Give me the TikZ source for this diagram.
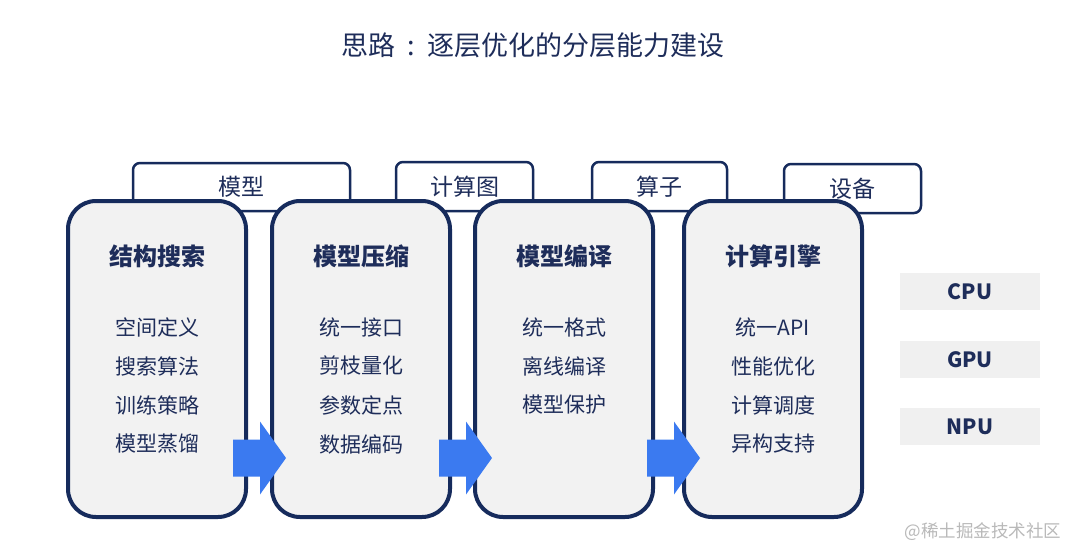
\documentclass[tikz,border=0pt]{standalone}
\usepackage{fontspec}
\setmainfont{Noto Sans CJK SC}
\definecolor{navy}{RGB}{22,43,92}
\definecolor{txt}{RGB}{30,45,90}
\definecolor{boxfill}{RGB}{242,242,242}
\definecolor{devfill}{RGB}{240,240,240}
\definecolor{arrowblue}{RGB}{59,122,240}
\definecolor{wm}{RGB}{185,185,185}
\begin{document}
\begin{tikzpicture}[x=1pt,y=-1pt,
  tabbox/.style={draw=navy, line width=2.5pt, fill=white, rounded corners=7pt, inner sep=0pt,
    font=\fontsize{23}{26}\selectfont, text=txt},
  mainbox/.style={draw=navy, line width=4pt, fill=boxfill, rounded corners=28pt,
    minimum width=178pt, minimum height=316pt, inner sep=0pt},
  boxtitle/.style={font=\fontsize{24}{28}\selectfont\bfseries, text=txt, inner sep=0pt},
  item/.style={font=\fontsize{21}{25}\selectfont, text=txt, inner sep=0pt},
  devbox/.style={fill=devfill, minimum width=140pt, minimum height=37pt, inner sep=0pt,
    font=\fontsize{21}{25}\selectfont\bfseries, text=txt},
  blockarrow/.pic={\fill[arrowblue] (0,-18.5) -- (27,-18.5) -- (27,-36.5) -- (53,0) -- (27,36.5) -- (27,18.5) -- (0,18.5) -- cycle;}
]
\useasboundingbox (0,0) rectangle (1080,560);
\fill[white] (0,0) rectangle (1080,560);

% title
\node[font=\fontsize{27}{31}\selectfont, text=txt, inner sep=0pt] (title) at (533,45) {思路\makebox[1.2em]{:}逐层优化的分层能力建设};

% tabs
\node[tabbox, minimum width=217pt, minimum height=48pt] (t1) at (241.5,187) {模型};
\node[tabbox, minimum width=137pt, minimum height=49pt] (t2) at (464.5,186.5) {计算图};
\node[tabbox, minimum width=135pt, minimum height=49pt] (t3) at (659.5,186.5) {算子};
\node[tabbox, minimum width=137pt, minimum height=49pt] (t4) at (852.5,188.5) {设备};

% main boxes
\node[mainbox] (b1) at (157,359) {};
\node[mainbox] (b2) at (361,359) {};
\node[mainbox] (b3) at (564,359) {};
\node[mainbox] (b4) at (773,359) {};

% box 1
\node[boxtitle] (b1t) at (157,256) {结构搜索};
\node[item] (b1a) at (157,327) {空间定义};
\node[item] (b1b) at (157,366) {搜索算法};
\node[item] (b1c) at (157,405) {训练策略};
\node[item] (b1d) at (157,444) {模型蒸馏};
% box 2
\node[boxtitle] (b2t) at (361,256) {模型压缩};
\node[item] (b2a) at (361,327) {统一接口};
\node[item] (b2b) at (361,366) {剪枝量化};
\node[item] (b2c) at (361,405) {参数定点};
\node[item] (b2d) at (361,444) {数据编码};
% box 3
\node[boxtitle] (b3t) at (564,256) {模型编译};
\node[item] (b3a) at (564,327) {统一格式};
\node[item] (b3b) at (564,366) {离线编译};
\node[item] (b3c) at (564,405) {模型保护};
% box 4
\node[boxtitle] (b4t) at (773,256) {计算引擎};
\node[item] (b4a) at (773,327) {统一API};
\node[item] (b4b) at (773,366) {性能优化};
\node[item] (b4c) at (773,405) {计算调度};
\node[item] (b4d) at (773,444) {异构支持};

% block arrows
\pic at (233,458) {blockarrow};
\pic at (439,458) {blockarrow};
\pic at (647,458) {blockarrow};

% devices
\node[devbox] (cpu) at (970,291.5) {CPU};
\node[devbox] (gpu) at (970,359.5) {GPU};
\node[devbox] (npu) at (970,426.5) {NPU};

% watermark
\node[font=\fontsize{17.5}{20}\selectfont, text=wm, inner sep=0pt] (wmk) at (983,532) {@稀土掘金技术社区};
\end{tikzpicture}
\end{document}
